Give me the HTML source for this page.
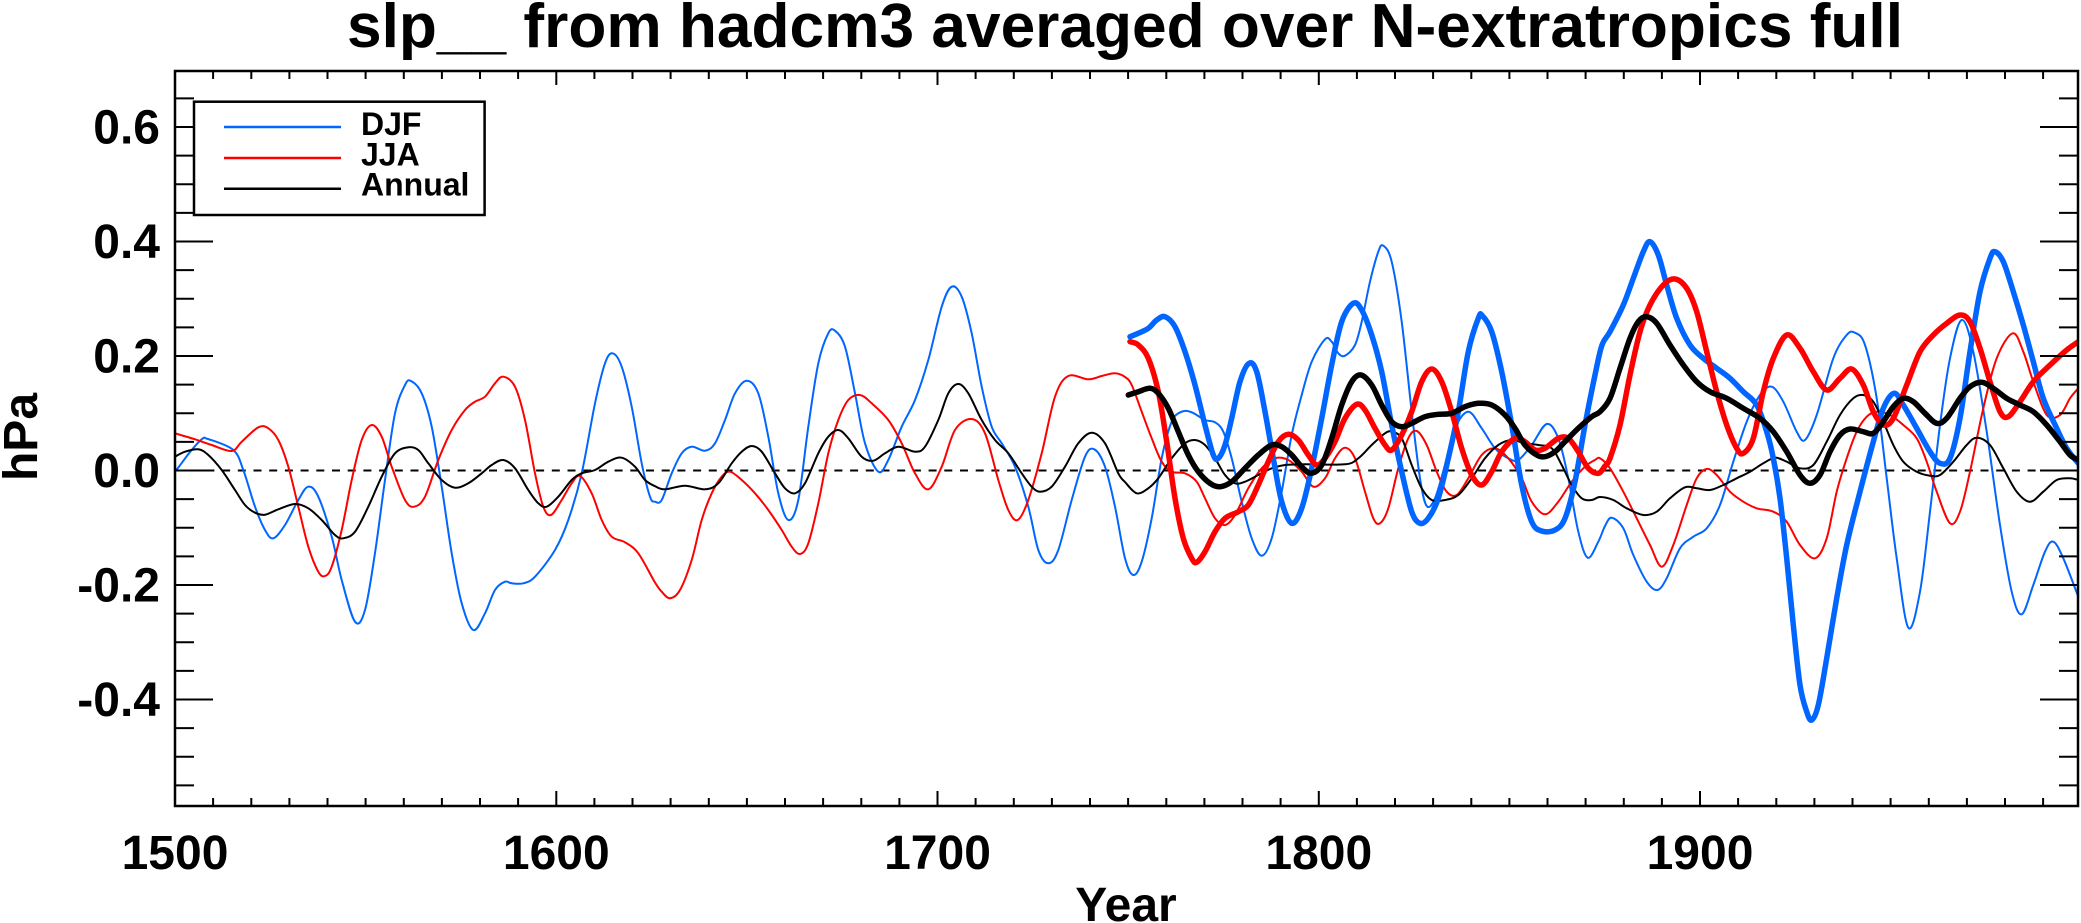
<!DOCTYPE html>
<html><head><meta charset="utf-8"><style>
html,body{margin:0;padding:0;background:#fff;}
svg{display:block;}
text{font-family:"Liberation Sans",Arial,sans-serif;font-weight:bold;fill:#000;}
</style></head><body>
<svg id="chart" width="2081" height="923" viewBox="0 0 2081 923" xmlns="http://www.w3.org/2000/svg">
<defs><clipPath id="pc"><rect x="175" y="71" width="1903" height="735"/></clipPath></defs>
<rect width="2081" height="923" fill="#fff"/>
<text x="1125" y="47" font-size="62" text-anchor="middle" textLength="1556" lengthAdjust="spacingAndGlyphs">slp__ from hadcm3 averaged over N-extratropics full</text>

<line x1="175" y1="470.5" x2="2077" y2="470.5" stroke="#000" stroke-width="2" stroke-dasharray="8,7.7"/>

<g id="curves" clip-path="url(#pc)" fill="none" stroke-linejoin="round" stroke-linecap="round">
<polyline stroke="#0066ff" stroke-width="2" points="175,470 177.7,468.3 190,452 201.7,439.3 208,439 233.3,450 243.3,470 255,506.7 265,530 273.3,538.3 285,525 298.3,500 308.3,486.7 318.3,496.7 331.7,536.7 341.7,580 355,621.7 365,610 375,553 385,480 395,413.3 405,385 411,381 421.7,393.3 431.7,426.7 441.7,486.7 451.7,553.3 461.7,603.3 473.3,630 485,613.3 495,590 505,581.7 511.7,583.3 523.3,583.3 535,576.7 555,550 568.3,520 581.7,473.3 595,403.3 605,363.3 612.7,353.3 621.7,366.7 631.7,406.7 641.7,463.3 650,496.7 655,501.7 661.7,500 671.7,473.3 681.7,453.3 691.7,446.7 705,450.7 715,443.3 725,420 735,393.3 746.7,380.7 758.3,393.3 768.3,436.7 778.3,493.3 788.3,520 798.3,500 808.3,426.7 818.3,363.3 828.3,333.3 835,330.7 845,346.7 855,393.3 865,443.3 878.3,471.7 888.3,460 901.7,426.7 915,400 928.3,360 941.7,306.7 951.7,286.7 961.7,296.7 971.7,333.3 981.7,386.7 991.7,426.7 1001.7,443.3 1015,466.7 1028.3,506.7 1038.3,550 1048.3,563.3 1058.3,550 1071.7,500 1085,456.7 1094.3,449.3 1105,466.7 1115,506.7 1125,558.3 1133.3,575 1141.7,561.7 1151.7,518.3 1161.7,458.3 1171.7,421.7 1181.7,411.7 1191.7,412.3 1205,420 1215,422.3 1223.3,431.7 1231.7,458.3 1241.7,501.7 1251.7,538.3 1261.7,555.7 1271.7,538.3 1281.7,491.7 1291.7,435 1301.7,395 1311.7,361.7 1325,339.3 1331.7,341.7 1338.3,353.3 1345,355.7 1355,345 1361.7,321.7 1370,281.7 1378.3,251.7 1383.3,245.7 1391.7,261.7 1401.7,321.7 1411.7,411.7 1420,478.3 1426.7,506 1435,498.3 1445,465 1455,428.3 1468.3,411.7 1481.7,428.3 1495,448.3 1508.3,458.3 1518.3,460 1531.7,445 1546.7,424 1558.3,438.3 1568.3,478.3 1578.3,531.7 1587.7,557.7 1598.3,541.7 1605,526 1611.7,517.7 1623.3,528.3 1633.3,555 1646.7,581.7 1657.3,590 1666.7,578.3 1680,548.3 1693.3,536.7 1706.7,528.3 1720,505 1733.3,461.7 1746.7,421.7 1760,395 1771.7,386.7 1783.3,401.7 1796.7,431.7 1805,440 1816.7,415 1833.3,358.3 1846.7,335 1855,332.7 1865,345 1876.7,398.3 1886.7,478.3 1896.7,558.3 1908.3,627.7 1920,591.7 1930,511.7 1940,425 1950,358.3 1961.7,320 1973.3,351.7 1986.7,431.7 2000,525 2011.7,591.7 2021.7,614.3 2033.3,585 2045,551.7 2053.3,541.7 2063.3,558.3 2078.3,596.7"/>
<polyline stroke="#ff0000" stroke-width="2" points="175,433.3 195,439.3 211.7,445 231.7,451 241.7,441.7 258.3,427.3 268.3,428.3 278.3,440 288.3,466.7 298.3,506.7 308.3,546.7 318.3,571.7 325,576 331.7,566.7 341.7,530 351.7,480 361.7,440 371.7,425 381.7,436.7 391.7,466.7 405,500 414.3,506.7 425,496.7 438.3,460 451.7,430 465,410 475,401.7 485,396.7 495,383.3 503.3,376.7 515,386.7 525,420 535,473.3 543.3,506.7 551,515 561.7,500 571.7,483.3 580,476 591.7,493.3 601.7,520 611.7,536.7 625,542.3 638.3,553.3 655,582.5 661.7,591.7 670,598.3 680,590 691.7,560 701.7,520 711.7,493.3 721.7,476.7 730,471.7 741.7,480 755,493.3 768.3,510 781.7,530 791.7,546.7 800,554 808.3,543.3 818.3,503.3 828.3,453.3 838.3,420 848.3,400 860,395 871.7,403.3 888.3,420 901.7,443.3 915,473.3 928.3,489.3 941.7,466.7 955,430 971.7,419 985,433.3 998.3,480 1008.3,510 1017.7,520 1028.3,500 1041.7,453.3 1055,396.7 1068.3,376 1088.3,379.3 1101.7,376 1115,373.3 1125,377 1131.7,385 1141.7,411.7 1151.7,438.3 1161.7,461.7 1171.7,471.7 1185,473.3 1196.7,481.7 1205,498.3 1215,518.3 1225,525 1235,515 1248.3,488.3 1261.7,468.3 1275,458.3 1288.3,460 1301.7,471.7 1313.3,486.7 1325,478.3 1335,458.3 1345,447.7 1355,458.3 1365,491.7 1373.3,518.3 1380,523.3 1388.3,508.3 1398.3,468.3 1408.3,438.3 1416.7,431 1426.7,445 1436.7,471.7 1446.7,491.7 1456.7,495 1468.3,478.3 1481.7,455 1495,448.3 1508.3,458.3 1521.7,478.3 1531.7,501.7 1545,514.3 1558.3,501.7 1571.7,481.7 1585,466.7 1595,460 1600,458.3 1610,468.3 1623.3,491.7 1636.7,518.3 1650,545 1661.7,566.7 1673.3,545 1686.7,505 1696.7,478.3 1706.7,469 1716.7,475 1730,491.7 1743.3,501.7 1756.7,508.3 1773.3,511.7 1786.7,521.7 1800,545 1815,558.3 1826.7,538.3 1836.7,491.7 1846.7,458.3 1856.7,431.7 1866.7,416.7 1876.7,411.7 1890,415 1903.3,425 1916.7,438.3 1926.7,461.7 1936.7,491.7 1950,523.3 1960,511.7 1970,471.7 1983.3,408.3 1996.7,358.3 2012.7,333.3 2023.3,351.7 2033.3,381.7 2046.7,415 2060,415 2070,398.3 2078.3,388.3"/>
<polyline stroke="#000" stroke-width="2" points="175,456.7 185,451.7 198.3,449.3 208.3,455 221.7,470 235,490 245,505 255,512.7 265,514.7 278.3,509.3 295,504 308.3,508.3 321.7,520 335,535 343.3,538.3 355,531.7 368.3,506.7 381.7,476.7 395,453.3 408.3,447.3 418.3,450 428.3,463.3 441.7,480 455,487.7 468.3,483.3 481.7,473.3 491.7,465 503.3,460 515,468.3 528.3,490 538.3,503.3 546.7,506.7 558.3,496.7 571.7,480 581.7,473.3 595,470 608.3,461.7 621.7,457.7 635,466.7 645,480 655,486.2 665,489.3 685,485.7 705,489.3 718.3,483.3 731.7,463.3 741.7,451.7 751.7,446 761.7,451.7 775,473.3 785,488.3 795,493.3 805,483.3 818.3,453.3 828.3,436.7 838.3,430 848.3,438.3 861.7,456.7 873.3,460.7 885,453.3 898.3,446.7 915,451.7 925,446.7 938.3,420 948.3,393.3 958.3,384 968.3,393.3 981.7,420 995,440 1008.3,453.3 1021.7,473.3 1031.7,486.7 1040,491.7 1051.7,486.7 1065,466.7 1078.3,443.3 1091.7,432.7 1105,443.3 1118.3,473.3 1125,482 1136.7,493.3 1148.3,488.3 1158.3,478.3 1171.7,458.3 1185,443.3 1195,440 1205,445 1215,458.3 1225,475 1235,483.3 1245,481.7 1258.3,475 1271.7,468.3 1285,465 1305,464.3 1345,464.3 1358.3,458.3 1371.7,445 1385,433.3 1391.7,431.7 1401.7,438.3 1411.7,465 1421.7,488.3 1431.7,500 1445,500 1458.3,495 1471.7,478.3 1485,458.3 1498.3,445 1511.7,440 1525,443.3 1538.3,445 1551.7,448.3 1561.7,465 1571.7,485 1581.7,498.3 1591.7,500 1600,497 1613.3,500 1626.7,508.3 1643.3,515 1656.7,511.7 1670,498.3 1685,487.3 1696.7,488.3 1710,490 1723.3,485 1736.7,478.3 1750,471.7 1763.3,463.3 1775,457.7 1786.7,461.7 1800,468.3 1813.3,465 1826.7,441.7 1840,415 1853.3,398.3 1863.3,395 1873.3,401.7 1883.3,421.7 1893.3,445 1903.3,461.7 1916.7,471.7 1930,475.7 1940,475 1953.3,461.7 1966.7,445 1976.7,437.7 1990,445 2003.3,468.3 2016.7,491.7 2030,501.7 2043.3,491.7 2056.7,480 2070,478.3 2078.3,480"/>
<polyline stroke="#0066ff" stroke-width="5.5" points="1130,336.7 1138.3,333.3 1148.3,328.3 1156.7,320 1165,316.7 1175,326.7 1185,351.7 1195,385 1205,425 1213.3,455 1218.3,458.3 1225,445 1231.7,418.3 1240,381.7 1249,363.3 1256.7,371.7 1265,411.7 1273.3,458.3 1281.7,501.7 1291.7,523.3 1301.7,508.3 1311.7,468.3 1321.7,418.3 1331.7,365 1341.7,321.7 1353.3,303.3 1361.7,310 1371.7,335 1381.7,371.7 1391.7,425 1401.7,471.7 1411.7,511.7 1420,523.3 1428.3,518.3 1438.3,498.3 1448.3,458.3 1458.3,411.7 1468.3,351.7 1478.3,318.3 1482.3,315.7 1491.7,331.7 1501.7,371.7 1511.7,425 1521.7,485 1531.7,521.7 1541.7,531 1555,530 1565,518.3 1575,481.7 1585,425 1595,375 1602,345 1610,331.7 1623.3,305 1633.3,278.3 1643.3,251.7 1650,241.7 1658.3,255 1666.7,285 1676.7,318.3 1690,345 1703.3,358.3 1716.7,368.3 1730,378.3 1743.3,391.7 1756.7,405 1766.7,431.7 1773.3,458.3 1780,498.3 1786.7,558.3 1793.3,625 1800,685 1806.7,711.7 1811.7,720 1818.3,705 1826.7,658.3 1836.7,598.3 1846.7,545 1860,491.7 1873.3,441.7 1883.3,408.3 1894,393.3 1903.3,405 1916.7,428.3 1930,451.7 1940,463.3 1950,458.3 1960,418.3 1970,351.7 1980,291.7 1990,258.3 1995,251.7 2003.3,261.7 2013.3,291.7 2023.3,325 2033.3,361.7 2043.3,398.3 2056.7,428.3 2066.7,448.3 2078.3,463.3"/>
<polyline stroke="#ff0000" stroke-width="5.5" points="1130,341.7 1138.3,345 1148.3,358.3 1158.3,391.7 1166.7,441.7 1175,498.3 1183.3,538.3 1191.7,558.3 1196.7,562.3 1205,551.7 1215,531.7 1225,518.3 1238.3,511.7 1248.3,505 1258.3,485 1268.3,461.7 1278.3,441.7 1288.3,434.3 1298.3,440 1308.3,455 1316.7,465 1325,458.3 1335,441.7 1345,418.3 1356.7,404.3 1365,410 1375,428.3 1385,445 1391.7,450 1401.7,435 1411.7,411.7 1421.7,381.7 1431.7,369 1441.7,381.7 1451.7,411.7 1461.7,448.3 1471.7,475 1481.7,485 1491.7,471.7 1501.7,451.7 1515,438.3 1525,441.7 1535,450 1545,448.3 1558.3,438.3 1568.3,438.3 1578.3,451.7 1588.3,468.3 1598.3,473.3 1605,466 1610,458.3 1620,425 1630,375 1640,331.7 1650,305 1663.3,285 1675,279 1686.7,288.3 1696.7,311.7 1706.7,351.7 1716.7,391.7 1726.7,425 1736.7,448.3 1743.3,453.3 1753.3,438.3 1763.3,391.7 1773.3,358.3 1786.7,335 1800,348.3 1813.3,371.7 1826.7,390 1840,378.3 1851.7,369 1863.3,385 1873.3,411.7 1883.3,425 1893.3,418.3 1906.7,385 1920,351.7 1933.3,335 1946.7,323.3 1960,315 1970,321.7 1980,348.3 1990,381.7 2000,411.7 2008.3,416.7 2020,401.7 2033.3,381.7 2050,365 2066.7,350 2078.3,341.7"/>
<polyline stroke="#000" stroke-width="5.5" points="1128.3,395 1138.3,391.7 1150,388.3 1158.3,393.3 1168.3,408.3 1178.3,431.7 1188.3,455 1198.3,471.7 1210,483.3 1220,486.7 1231.7,481.7 1245,468.3 1258.3,455 1271.7,445 1281.7,446.7 1291.7,455 1301.7,466.7 1311,473.3 1321.7,465 1331.7,438.3 1341.7,405 1351.7,381.7 1361,375 1371.7,385 1381.7,405 1391.7,421.7 1401.7,426.7 1411.7,423.3 1425,416.7 1438.3,414.3 1451.7,413.3 1465,406.7 1478.3,403.3 1491.7,405 1505,415 1515,428.3 1525,445 1536.7,455 1545,456.7 1555,451.7 1565,441.7 1578.3,428.3 1591.7,416.7 1600,411.7 1610,398.3 1620,368.3 1630,338.3 1638.3,321.7 1646.7,316.7 1656.7,323.3 1670,345 1683.3,365 1696.7,381.7 1710,391.7 1726.7,398.3 1743.3,408.3 1760,418.3 1773.3,431.7 1786.7,451.7 1800,475 1810,483.3 1820,475 1830,451.7 1840,435 1850,429 1863.3,431.7 1873.3,433.3 1883.3,421.7 1893.3,406.7 1903.3,398.3 1913.3,401.7 1925,413.3 1936.7,423.3 1946.7,418.3 1960,398.3 1970,386.7 1981.7,382.3 1993.3,388.3 2006.7,398.3 2020,405 2033.3,411.7 2046.7,425 2060,441.7 2070,455 2078.3,460"/>
</g>

<rect x="175" y="71" width="1903" height="735" fill="none" stroke="#000" stroke-width="2.5"/>

<g stroke="#000" stroke-width="2">
<path d="M556.3,806V791M937.5,806V791M1318.8,806V791M1700,806V791
M213.1,806V798M251.3,806V798M289.4,806V798M327.5,806V798M365.6,806V798M403.8,806V798M441.9,806V798M480,806V798M518.1,806V798
M594.4,806V798M632.5,806V798M670.6,806V798M708.8,806V798M746.9,806V798M785,806V798M823.1,806V798M861.3,806V798M899.4,806V798
M975.6,806V798M1013.8,806V798M1051.9,806V798M1090,806V798M1128.1,806V798M1166.3,806V798M1204.4,806V798M1242.5,806V798M1280.6,806V798
M1356.9,806V798M1395,806V798M1433.1,806V798M1471.3,806V798M1509.4,806V798M1547.5,806V798M1585.6,806V798M1623.8,806V798M1661.9,806V798
M1738.1,806V798M1776.3,806V798M1814.4,806V798M1852.5,806V798M1890.6,806V798M1928.8,806V798M1966.9,806V798M2005,806V798M2043.1,806V798"/>
<path d="M556.3,71V85M937.5,71V85M1318.8,71V85M1700,71V85
M213.1,71V79M251.3,71V79M289.4,71V79M327.5,71V79M365.6,71V79M403.8,71V79M441.9,71V79M480,71V79M518.1,71V79
M594.4,71V79M632.5,71V79M670.6,71V79M708.8,71V79M746.9,71V79M785,71V79M823.1,71V79M861.3,71V79M899.4,71V79
M975.6,71V79M1013.8,71V79M1051.9,71V79M1090,71V79M1128.1,71V79M1166.3,71V79M1204.4,71V79M1242.5,71V79M1280.6,71V79
M1356.9,71V79M1395,71V79M1433.1,71V79M1471.3,71V79M1509.4,71V79M1547.5,71V79M1585.6,71V79M1623.8,71V79M1661.9,71V79
M1738.1,71V79M1776.3,71V79M1814.4,71V79M1852.5,71V79M1890.6,71V79M1928.8,71V79M1966.9,71V79M2005,71V79M2043.1,71V79"/>
<path d="M175,127H213M175,241.5H213M175,356H213M175,470.5H213M175,585H213M175,699.5H213
M175,98.4H194M175,155.6H194M175,184.3H194M175,212.9H194M175,270.1H194M175,298.8H194M175,327.4H194M175,384.6H194M175,413.3H194M175,441.9H194
M175,499.1H194M175,527.8H194M175,556.4H194M175,613.6H194M175,642.3H194M175,670.9H194M175,728.1H194M175,756.8H194M175,785.4H194"/>
<path d="M2078,127H2040M2078,241.5H2040M2078,356H2040M2078,470.5H2040M2078,585H2040M2078,699.5H2040
M2078,98.4H2059M2078,155.6H2059M2078,184.3H2059M2078,212.9H2059M2078,270.1H2059M2078,298.8H2059M2078,327.4H2059M2078,384.6H2059M2078,413.3H2059M2078,441.9H2059
M2078,499.1H2059M2078,527.8H2059M2078,556.4H2059M2078,613.6H2059M2078,642.3H2059M2078,670.9H2059M2078,728.1H2059M2078,756.8H2059M2078,785.4H2059"/>
</g>

<g font-size="48" text-anchor="end">
<text x="160" y="143.5">0.6</text>
<text x="160" y="258">0.4</text>
<text x="160" y="372.5">0.2</text>
<text x="160" y="487">0.0</text>
<text x="160" y="601.5">-0.2</text>
<text x="160" y="716">-0.4</text>
</g>
<g font-size="48" text-anchor="middle">
<text x="175" y="869">1500</text>
<text x="556.3" y="869">1600</text>
<text x="937.5" y="869">1700</text>
<text x="1318.8" y="869">1800</text>
<text x="1700" y="869">1900</text>
<text x="1126" y="921">Year</text>
<text transform="translate(37,437) rotate(-90)">hPa</text>
</g>

<rect x="194" y="101.7" width="290.6" height="113.3" fill="#fff" stroke="#000" stroke-width="2.5"/>
<line x1="224" y1="127" x2="341" y2="127" stroke="#0066ff" stroke-width="2.5"/>
<line x1="224" y1="158" x2="341" y2="158" stroke="#ff0000" stroke-width="2.5"/>
<line x1="224" y1="188.7" x2="341" y2="188.7" stroke="#000" stroke-width="2.5"/>
<g font-size="32">
<text x="361" y="135">DJF</text>
<text x="361" y="165.7">JJA</text>
<text x="361" y="195.7">Annual</text>
</g>
</svg>
<script>
(function(){
  try{
    var NS="http://www.w3.org/2000/svg";
    var pls=document.querySelectorAll("#curves polyline");
    for(var i=0;i<pls.length;i++){
      var pl=pls[i];
      var raw=pl.getAttribute("points").trim().split(/\s+/);
      var p=[];
      for(var j=0;j<raw.length;j++){var xy=raw[j].split(",");p.push([parseFloat(xy[0]),parseFloat(xy[1])]);}
      if(p.length<3)continue;
      var d="M"+p[0][0]+","+p[0][1];
      for(var k=0;k<p.length-1;k++){
        var p0=p[k>0?k-1:0],p1=p[k],p2=p[k+1],p3=p[k+2<p.length?k+2:p.length-1];
        var c1x=p1[0]+(p2[0]-p0[0])/6,c1y=p1[1]+(p2[1]-p0[1])/6;
        var c2x=p2[0]-(p3[0]-p1[0])/6,c2y=p2[1]-(p3[1]-p1[1])/6;
        d+="C"+c1x.toFixed(2)+","+c1y.toFixed(2)+" "+c2x.toFixed(2)+","+c2y.toFixed(2)+" "+p2[0]+","+p2[1];
      }
      var path=document.createElementNS(NS,"path");
      path.setAttribute("d",d);
      path.setAttribute("stroke",pl.getAttribute("stroke"));
      path.setAttribute("stroke-width",pl.getAttribute("stroke-width"));
      path.setAttribute("fill","none");
      pl.parentNode.replaceChild(path,pl);
    }
  }catch(e){}
})();
</script>
</body></html>
